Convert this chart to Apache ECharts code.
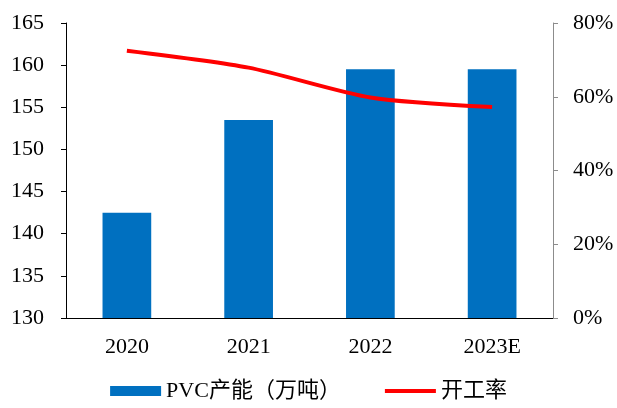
<!DOCTYPE html>
<html>
<head>
<meta charset="utf-8">
<script src="https://cdn.jsdelivr.net/npm/echarts@6/dist/echarts.min.js"></script>
<style>
  html, body { margin: 0; padding: 0; background: #fff; }
  #chart { width: 617px; height: 408px; }
</style>
</head>
<body>
<div id="chart"></div>
<script>
// PVC capacity (10k tonnes) and operating rate by year
const years = ['2020', '2021', '2022', '2023E'];
const capacity = [142.5, 153.5, 159.5, 159.5];
const operatingRate = [72.5, 67.9, 59.8, 57.2];

const leftTicks = { min: 130, max: 165, interval: 5 };
const rightTicks = { min: 0, max: 80, interval: 20 };

const serif = "'Liberation Serif', 'Times New Roman', 'Noto Sans CJK SC', serif";

const chart = echarts.init(document.getElementById('chart'), null, { renderer: 'canvas' });

chart.setOption({
  animation: false,
  backgroundColor: '#ffffff',
  grid: { left: 66, right: 64, top: 23, bottom: 90, containLabel: false },
  legend: {
    bottom: 1,
    left: 'center',
    itemWidth: 51,
    itemHeight: 10,
    itemGap: 44,
    textStyle: { fontFamily: serif, fontSize: 22, color: '#000' },
    data: [
      { name: 'PVC产能（万吨）', icon: 'rect' },
      // plain thick stroke for the rate series, no marker dot
      { name: '开工率', icon: 'path://M0,0L51,0L51,4L0,4Z' }
    ]
  },
  xAxis: {
    type: 'category',
    data: years,
    axisLine: { lineStyle: { color: '#000', width: 1 } },
    axisTick: { inside: true, length: 5, lineStyle: { color: '#000' } },
    axisLabel: { fontFamily: serif, fontSize: 22, color: '#000', margin: 18 }
  },
  yAxis: [
    {
      type: 'value',
      min: leftTicks.min,
      max: leftTicks.max,
      interval: leftTicks.interval,
      axisLine: { show: true, lineStyle: { color: '#000' } },
      axisTick: { show: true, length: 5, lineStyle: { color: '#000' } },
      splitLine: { show: false },
      axisLabel: { fontFamily: serif, fontSize: 22, color: '#000', margin: 22 }
    },
    {
      type: 'value',
      position: 'right',
      min: rightTicks.min,
      max: rightTicks.max,
      interval: rightTicks.interval,
      axisLine: { show: true, lineStyle: { color: '#8c8c8c' } },
      axisTick: { show: true, length: 5, lineStyle: { color: '#8c8c8c' } },
      splitLine: { show: false },
      axisLabel: {
        fontFamily: serif, fontSize: 22, color: '#000', margin: 20,
        formatter: v => v + '%'
      }
    }
  ],
  series: [
    {
      name: 'PVC产能（万吨）',
      type: 'bar',
      data: capacity,
      barWidth: '40%',
      itemStyle: { color: '#0070C0' }
    },
    {
      name: '开工率',
      type: 'line',
      yAxisIndex: 1,
      data: operatingRate,
      symbol: 'none',
      smooth: 0.25,
      lineStyle: { color: '#FF0000', width: 4 },
      itemStyle: { color: '#FF0000' }
    }
  ]
});
</script>
</body>
</html>
